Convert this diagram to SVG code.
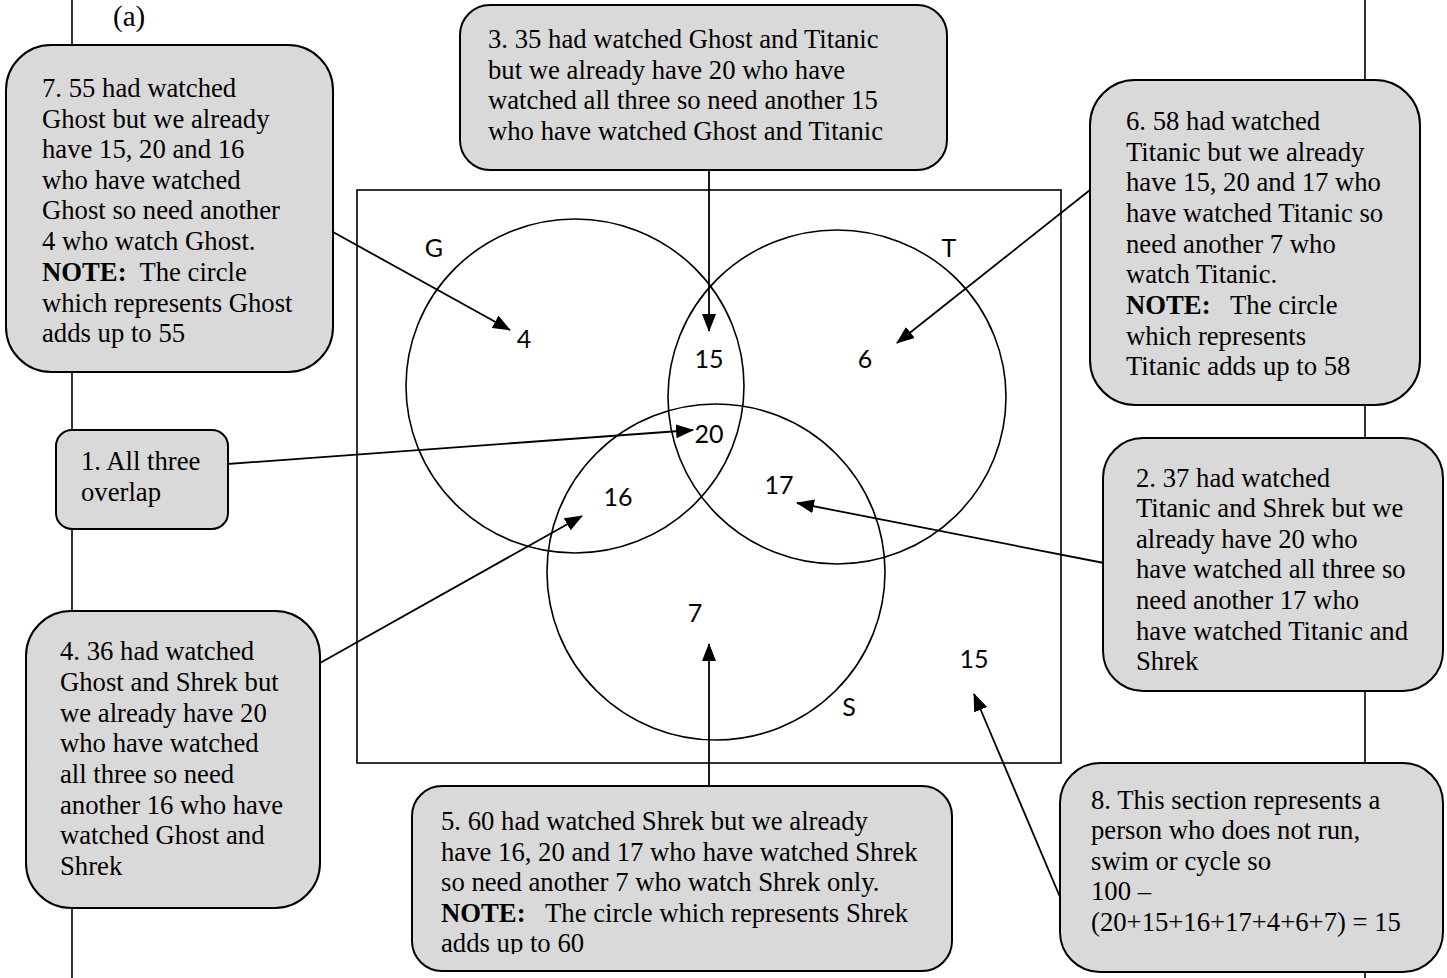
<svg xmlns="http://www.w3.org/2000/svg" width="1447" height="978" viewBox="0 0 1447 978">
<defs>
<marker id="ah" markerUnits="userSpaceOnUse" markerWidth="18" markerHeight="14" refX="17" refY="7" orient="auto">
<path d="M0,0 L18,7 L0,14 Z" fill="#000"/>
</marker>
<clipPath id="clip5"><rect x="412" y="786" width="540" height="168"/></clipPath>
<style>
.box{fill:#d9d9d9;stroke:#000;stroke-width:2}
.t{font-family:"Liberation Serif","Times New Roman",serif;font-size:26.7px;fill:#000}
.b{font-weight:bold}
.n{font-family:Lato,"Open Sans","Liberation Sans",sans-serif;font-size:25px;fill:#000;text-anchor:middle}
.c{fill:none;stroke:#000;stroke-width:1.6}
.a{stroke:#000;stroke-width:1.8;fill:none;marker-end:url(#ah)}
.m{stroke:#000;stroke-width:1.6}
</style>
</defs>
<rect width="1447" height="978" fill="#fff"/>
<g id="margins">
<line class="m" x1="72" y1="0" x2="72" y2="978"/>
<line class="m" x1="1365" y1="0" x2="1365" y2="978"/>
</g>
<text class="t" x="113" y="26" style="font-size:29px">(a)</text>
<g id="venn">
<rect x="357" y="190" width="704" height="573" fill="none" stroke="#000" stroke-width="1.6"/>
<ellipse class="c" cx="575" cy="386" rx="169" ry="167"/>
<ellipse class="c" cx="837" cy="397" rx="169" ry="167"/>
<ellipse class="c" cx="716" cy="572" rx="169" ry="168"/>
<text class="n" x="434" y="257">G</text>
<text class="n" x="949" y="257">T</text>
<text class="n" x="849" y="716">S</text>
<text class="n" x="524" y="348">4</text>
<text class="n" x="709" y="368">15</text>
<text class="n" x="865" y="368">6</text>
<text class="n" x="709" y="443">20</text>
<text class="n" x="618" y="506">16</text>
<text class="n" x="779" y="494">17</text>
<text class="n" x="695" y="622">7</text>
<text class="n" x="974" y="668">15</text>
</g>
<g id="connectors">
<line class="a" x1="333" y1="232" x2="510" y2="330"/>
<line class="a" x1="709" y1="170" x2="709" y2="331"/>
<line class="a" x1="1090" y1="190" x2="897" y2="343"/>
<line class="a" x1="214" y1="465" x2="693" y2="430"/>
<line class="a" x1="1104" y1="563" x2="797" y2="503"/>
<line class="a" x1="320" y1="663" x2="582" y2="516"/>
<line class="a" x1="709" y1="787" x2="709" y2="644"/>
<line class="a" x1="1060" y1="897" x2="974" y2="694"/>
</g>
<g id="callout7">
<rect class="box" x="6" y="45" width="327" height="327" rx="45"/>
<text class="t" x="42" y="97">7. 55 had watched</text>
<text class="t" x="42" y="128">Ghost but we already</text>
<text class="t" x="42" y="158">have 15, 20 and 16</text>
<text class="t" x="42" y="189">who have watched</text>
<text class="t" x="42" y="219">Ghost so need another</text>
<text class="t" x="42" y="250">4 who watch Ghost.</text>
<text class="t" x="42" y="281" xml:space="preserve"><tspan class="b">NOTE:</tspan>  The circle</text>
<text class="t" x="42" y="312">which represents Ghost</text>
<text class="t" x="42" y="342">adds up to 55</text>
</g>
<g id="callout3">
<rect class="box" x="460" y="5" width="487" height="165" rx="30"/>
<text class="t" x="488" y="48">3. 35 had watched Ghost and Titanic</text>
<text class="t" x="488" y="79">but we already have 20 who have</text>
<text class="t" x="488" y="109">watched all three so need another 15</text>
<text class="t" x="488" y="140">who have watched Ghost and Titanic</text>
</g>
<g id="callout6">
<rect class="box" x="1090" y="80" width="330" height="325" rx="45"/>
<text class="t" x="1126" y="130">6. 58 had watched</text>
<text class="t" x="1126" y="161">Titanic but we already</text>
<text class="t" x="1126" y="191">have 15, 20 and 17 who</text>
<text class="t" x="1126" y="222">have watched Titanic so</text>
<text class="t" x="1126" y="253">need another 7 who</text>
<text class="t" x="1126" y="283">watch Titanic.</text>
<text class="t" x="1126" y="314" xml:space="preserve"><tspan class="b">NOTE:</tspan>   The circle</text>
<text class="t" x="1126" y="345">which represents</text>
<text class="t" x="1126" y="375">Titanic adds up to 58</text>
</g>
<g id="callout1">
<rect class="box" x="56" y="430" width="172" height="99" rx="16"/>
<text class="t" x="81" y="470">1. All three</text>
<text class="t" x="81" y="501">overlap</text>
</g>
<g id="callout2">
<rect class="box" x="1103" y="438" width="340" height="253" rx="40"/>
<text class="t" x="1136" y="487">2. 37 had watched</text>
<text class="t" x="1136" y="517">Titanic and Shrek but we</text>
<text class="t" x="1136" y="548">already have 20 who</text>
<text class="t" x="1136" y="578">have watched all three so</text>
<text class="t" x="1136" y="609">need another 17 who</text>
<text class="t" x="1136" y="640">have watched Titanic and</text>
<text class="t" x="1136" y="670">Shrek</text>
</g>
<g id="callout4">
<rect class="box" x="26" y="611" width="294" height="297" rx="45"/>
<text class="t" x="60" y="660">4. 36 had watched</text>
<text class="t" x="60" y="691">Ghost and Shrek but</text>
<text class="t" x="60" y="722">we already have 20</text>
<text class="t" x="60" y="752">who have watched</text>
<text class="t" x="60" y="783">all three so need</text>
<text class="t" x="60" y="814">another 16 who have</text>
<text class="t" x="60" y="844">watched Ghost and</text>
<text class="t" x="60" y="875">Shrek</text>
</g>
<g id="callout5">
<rect class="box" x="412" y="786" width="540" height="185" rx="30"/>
<g clip-path="url(#clip5)">
<text class="t" x="441" y="830">5. 60 had watched Shrek but we already</text>
<text class="t" x="441" y="861">have 16, 20 and 17 who have watched Shrek</text>
<text class="t" x="441" y="891">so need another 7 who watch Shrek only.</text>
<text class="t" x="441" y="922" xml:space="preserve"><tspan class="b">NOTE:</tspan>   The circle which represents Shrek</text>
<text class="t" x="441" y="952">adds up to 60</text>
</g>
</g>
<g id="callout8">
<rect class="box" x="1060" y="763" width="383" height="209" rx="40"/>
<text class="t" x="1091" y="809">8. This section represents a</text>
<text class="t" x="1091" y="839">person who does not run,</text>
<text class="t" x="1091" y="870">swim or cycle so</text>
<text class="t" x="1091" y="900">100 –</text>
<text class="t" x="1091" y="931">(20+15+16+17+4+6+7) = 15</text>
</g>
</svg>
